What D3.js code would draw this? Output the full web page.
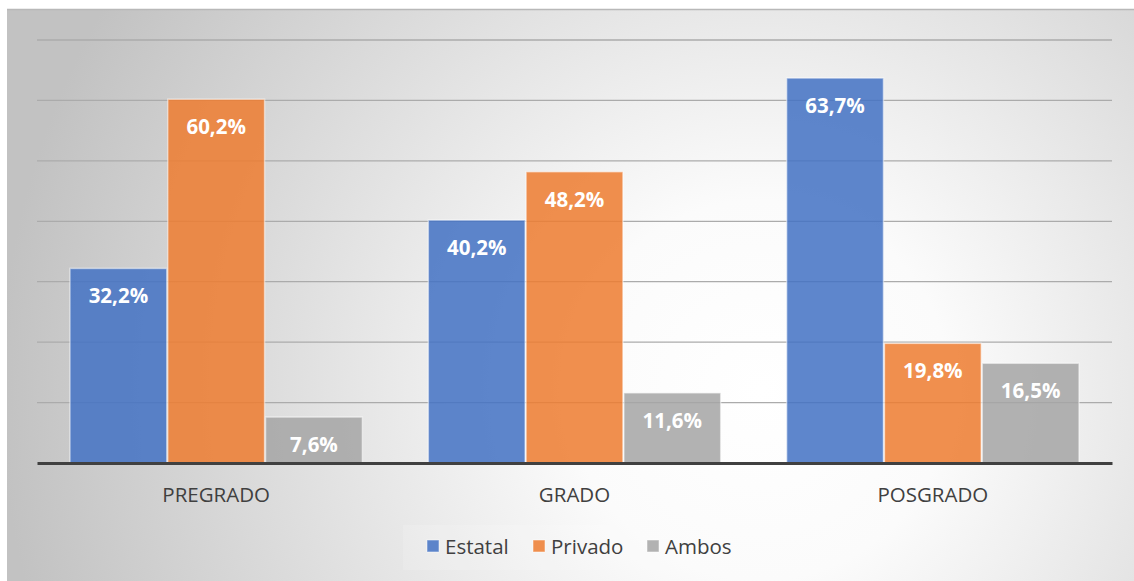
<!DOCTYPE html>
<html>
<head>
<meta charset="utf-8">
<script src="https://cdn.jsdelivr.net/npm/d3@7"></script>
<style>
  body { margin: 0; background: #fff; }
  svg { display: block; }
</style>
</head>
<body>
<div id="chart-area"></div>
<script>
// data
let categories = ["PREGRADO", "GRADO", "POSGRADO"];
let series = ["Estatal", "Privado", "Ambos"];
let estatal = [32.2, 40.2, 63.7];
let privado = [60.2, 48.2, 19.8];
let ambos = [7.6, 11.6, 16.5];
let yTicks = [0, 10, 20, 30, 40, 50, 60, 70];
let colors = ["#4472C4", "#ED7D31", "#A5A5A5"];

let values = [estatal, privado, ambos];

let width = 1134, height = 581;
let font = "'Open Sans', sans-serif";

let svg = d3.select("#chart-area").append("svg")
	.attr("width", width)
	.attr("height", height);

// background gradient
let defs = svg.append("defs");
let grad = defs.append("radialGradient")
	.attr("id", "bg")
	.attr("gradientUnits", "userSpaceOnUse")
	.attr("cx", 760).attr("cy", 390).attr("r", 760);
grad.append("stop").attr("offset", "0%").attr("stop-color", "#ffffff");
grad.append("stop").attr("offset", "25%").attr("stop-color", "#fbfbfb");
grad.append("stop").attr("offset", "100%").attr("stop-color", "#c2c2c2");

svg.append("rect")
	.attr("x", 7).attr("y", 9)
	.attr("width", width - 7).attr("height", height - 9)
	.attr("fill", "url(#bg)");
svg.append("line")
	.attr("x1", 7).attr("x2", width)
	.attr("y1", 9.5).attr("y2", 9.5)
	.attr("stroke", "#b8b8b8").attr("stroke-width", 1.5);

let margin = {left: 37, right: 22, top: 40, bottom: 463};

// scales
let x0 = d3.scaleBand()
	.domain(categories)
	.range([margin.left, width - margin.right])
	.paddingInner(0).paddingOuter(0);

let x1 = d3.scaleBand()
	.domain(series)
	.range([32, x0.bandwidth() - 32])
	.padding(0.01);

let y = d3.scaleLinear()
	.domain([0, 70])
	.range([margin.bottom, margin.top]);

// gridlines
svg.append("g")
	.selectAll("line")
	.data(yTicks.filter(d => d > 0))
	.join("line")
	.attr("x1", margin.left).attr("x2", width - margin.right)
	.attr("y1", d => y(d)).attr("y2", d => y(d))
	.attr("stroke", "#ababab").attr("stroke-width", 1.3);

// bars
let groups = svg.append("g")
	.selectAll("g")
	.data(categories)
	.join("g")
	.attr("transform", d => `translate(${x0(d)},0)`);

groups.selectAll("rect")
	.data((c, i) => series.map((s, j) => ({s: s, v: values[j][i], c: colors[j]})))
	.join("rect")
	.attr("x", d => x1(d.s))
	.attr("width", x1.bandwidth())
	.attr("y", d => y(d.v))
	.attr("height", d => y(0) - y(d.v))
	.attr("fill", d => d.c)
	.attr("fill-opacity", 0.86)
	.attr("stroke", "#ffffff")
	.attr("stroke-opacity", 0.5)
	.attr("stroke-width", 1.5);

groups.selectAll("text")
	.data((c, i) => series.map((s, j) => ({s: s, v: values[j][i]})))
	.join("text")
	.attr("x", d => x1(d.s) + x1.bandwidth() / 2)
	.attr("y", d => y(d.v) + 35)
	.attr("text-anchor", "middle")
	.attr("fill", "#ffffff")
	.style("font-family", font)
	.style("font-weight", "bold")
	.style("font-size", "20.5px")
	.text(d => d.v.toFixed(1).replace(".", ",") + "%");

// x axis
let xAxis = d3.axisBottom(x0).tickSize(0).tickPadding(24);
let xg = svg.append("g")
	.attr("transform", `translate(0, ${y(0)})`)
	.call(xAxis);
xg.select(".domain").attr("stroke", "#404040").attr("stroke-width", 3);
xg.selectAll("text")
	.attr("fill", "#404040")
	.style("font-family", font)
	.style("font-size", "20.5px");

// legend
svg.append("rect")
	.attr("x", 403).attr("y", 525).attr("width", 344).attr("height", 45)
	.attr("fill", "#ffffff").attr("fill-opacity", 0.15);

let legendX = [427, 533, 647];
let legend = svg.append("g")
	.selectAll("g")
	.data(series)
	.join("g")
	.attr("transform", (d, i) => `translate(${legendX[i]}, 540)`);
legend.append("rect")
	.attr("width", 12).attr("height", 12)
	.attr("fill", (d, i) => colors[i])
	.attr("fill-opacity", 0.86)
	.attr("stroke", "#ffffff").attr("stroke-opacity", 0.5);
legend.append("text")
	.attr("x", 18).attr("y", 14)
	.attr("fill", "#404040")
	.style("font-family", font)
	.style("font-size", "20.5px")
	.text(d => d);
</script>
</body>
</html>
